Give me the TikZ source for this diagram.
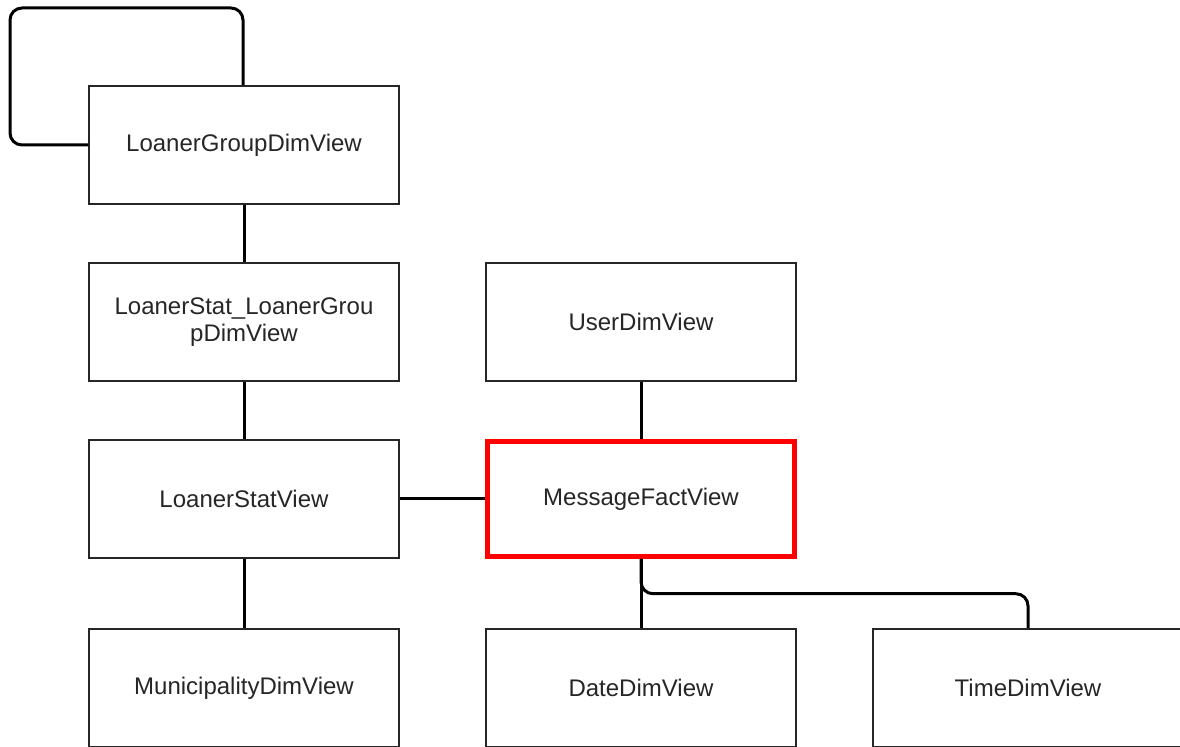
\documentclass[tikz,border=0pt]{standalone}
\usepackage{fontspec}
\setmainfont{Liberation Sans}
\begin{document}
\begin{tikzpicture}[x=0.5pt,y=-0.5pt,
  view/.style={draw=black!85,line width=0.75pt,fill=white,minimum width=155pt,minimum height=59pt,
    inner sep=0pt,align=center,text=black!85,font=\fontsize{12}{13.5}\selectfont},
  fact/.style={view,draw=red,line width=2.25pt,minimum width=153.5pt,minimum height=57.5pt},
  link/.style={line width=1.5pt,rounded corners=6pt}]
\useasboundingbox (0,0) rectangle (1180,747);
\clip (0,0) rectangle (1180,747);
%\draw[step=50,gray,very thin] (0,0) grid (1180,747);
\node[view] (lgd) at (244,145) {LoanerGroupDimView};
\node[view] (lslg) at (244,322) {LoanerStat\_LoanerGrou\\pDimView};
\node[view] (ud) at (641,322) {UserDimView};
\node[view] (ls) at (244,499) {LoanerStatView};
\node[fact] (mf) at (641,499) {MessageFactView};
\node[view] (md) at (244,688) {MunicipalityDimView};
\node[view] (dd) at (641,688) {DateDimView};
\node[view] (td) at (1028,688) {TimeDimView};

%------------------------------------------------

\draw[link] (lgd.west) -| (10,8) -| ([xshift=-0.5pt]lgd.north);
\draw[link] (lgd) -- (lslg);
\draw[link] (lslg) -- (ls);
\draw[link] (ls) -- (md);
\draw[link] (ls) -- (mf);
\draw[link] (ud) -- (mf);
\draw[link] (mf) -- (dd);
\draw[link] (mf.south) -- ++(0,35) -| (td.north);
\end{tikzpicture}
\end{document}
